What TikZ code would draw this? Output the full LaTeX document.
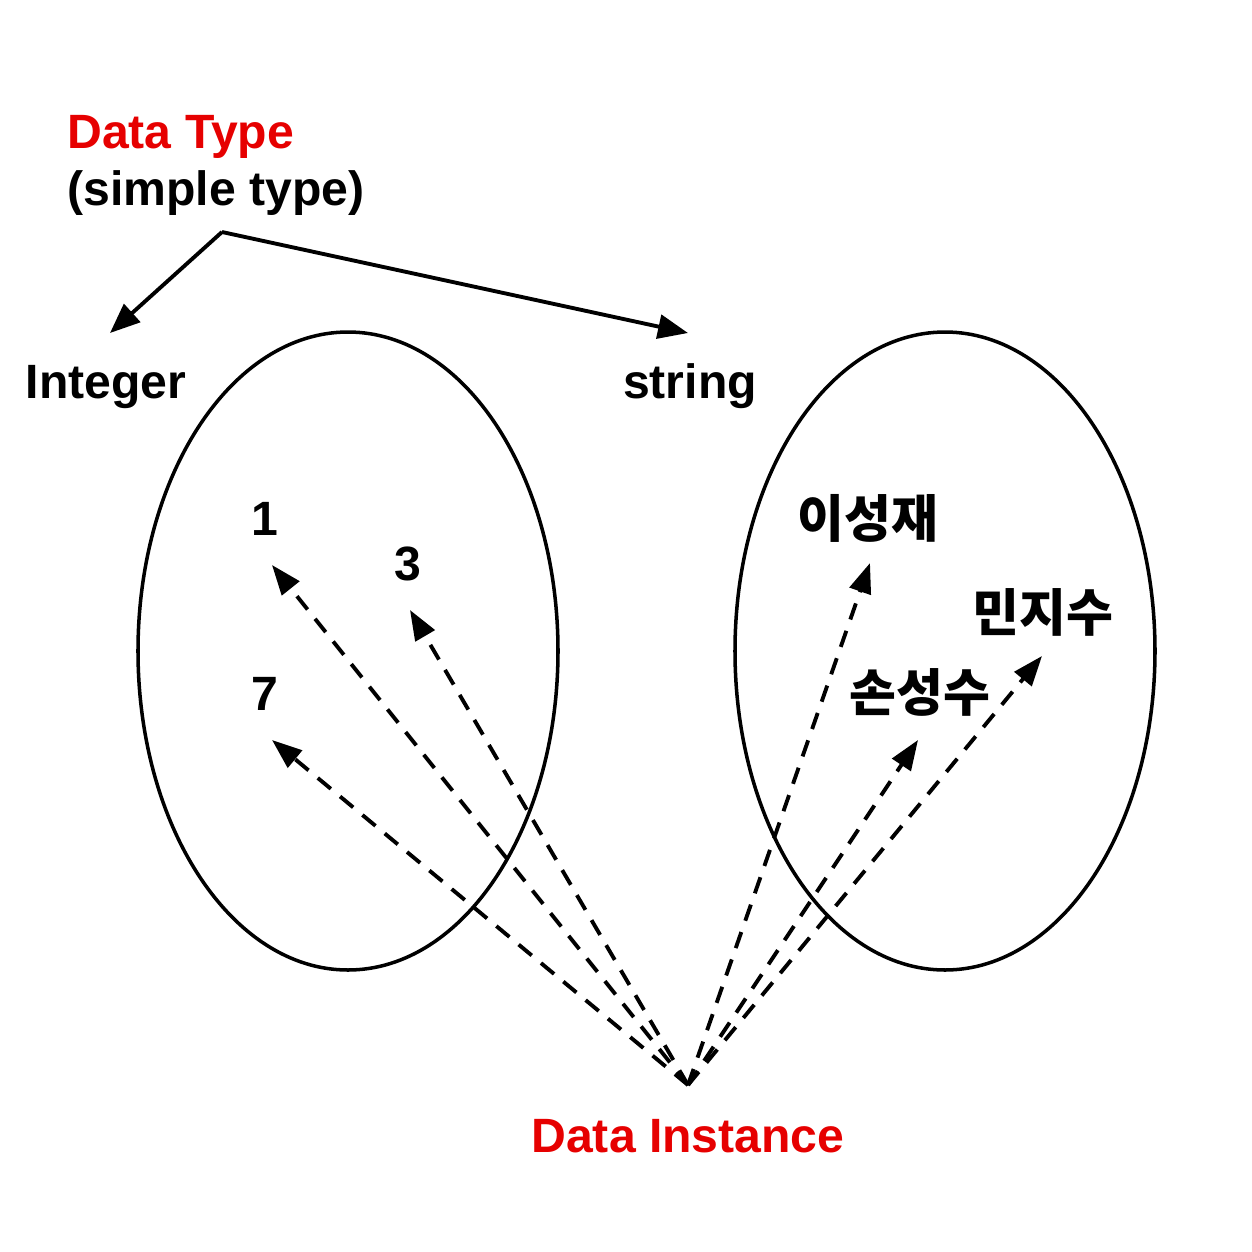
\documentclass[tikz,border=0pt]{standalone}
\usepackage{fontspec}
\setmainfont{Liberation Sans}
\newfontfamily\kor{Noto Sans CJK KR}
\usetikzlibrary{arrows.meta}
\definecolor{typered}{RGB}{230,0,0}

\tikzset{
	lbl/.style = {font=\bfseries\fontsize{13.7}{16}\selectfont},
	redlbl/.style = {lbl, text=typered},
	korlbl/.style = {font=\kor\bfseries\fontsize{14.5}{17}\selectfont},
	inst/.style = {-{Triangle[length=0.3cm,width=0.22cm]}, line width=1.1pt, dash pattern=on 0.17cm off 0.12cm},
	typearrow/.style = {-{Triangle[length=0.3cm,width=0.24cm]}, line width=1.1pt}
}

\begin{document}
\begin{tikzpicture}
	\useasboundingbox (0,0) rectangle (12.52,-12.52);

	\draw (0.55,-1.48) node[redlbl, anchor=base west] (dtype) {Data Type};
	\draw (0.55,-2.05) node[lbl, anchor=base west] (simple) {(simple type)};

	\draw (1.06,-3.98) node[lbl, anchor=base] (int) {Integer};
	\draw (6.90,-3.98) node[lbl, anchor=base] (str) {string};

	\draw[line width=1pt] (3.48,-6.51) ellipse (2.10cm and 3.19cm);
	\draw[line width=1pt] (9.45,-6.51) ellipse (2.10cm and 3.19cm);

	\draw (2.65,-5.35) node[lbl, anchor=base] (one) {1};
	\draw (4.08,-5.80) node[lbl, anchor=base] (three) {3};
	\draw (2.65,-7.10) node[lbl, anchor=base] (seven) {7};

	\draw (8.68,-5.18) node[korlbl] (lee) {이성재};
	\draw (10.43,-6.12) node[korlbl] (min) {민지수};
	\draw (9.20,-6.92) node[korlbl] (son) {손성수};

	\draw (6.88,-11.52) node[redlbl, anchor=base] (dinst) {Data Instance};

	% type arrows
	\coordinate (fork) at (2.22,-2.32);
	\coordinate (intend) at (1.10,-3.33);
	\coordinate (strend) at (6.88,-3.33);
	\draw[typearrow] (fork) -- (intend);
	\draw[typearrow] (fork) -- (strend);

	% instance arrows
	\coordinate (src) at (6.88,-10.85);
	\coordinate (tone) at (2.72,-5.65);
	\coordinate (tthree) at (4.10,-6.10);
	\coordinate (tseven) at (2.72,-7.40);
	\coordinate (tlee) at (8.70,-5.63);
	\coordinate (tson) at (9.18,-7.40);
	\coordinate (tmin) at (10.42,-6.56);
	\foreach \t in {tone,tthree,tseven,tlee,tson,tmin}
		\draw[inst] (src) -- (\t);
\end{tikzpicture}
\end{document}
